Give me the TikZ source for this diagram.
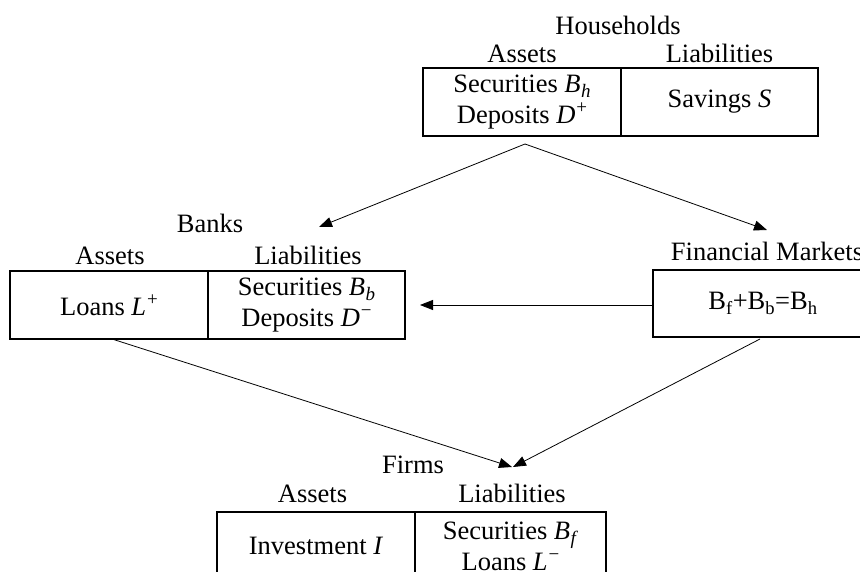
\documentclass[tikz,border=0pt]{standalone}
\usepackage{fontspec}
\setmainfont{Liberation Serif}
\usetikzlibrary{arrows.meta}
\newcommand{\itsub}[2]{\textit{#1}\kern0.5pt\raisebox{-0.2em}{\fontsize{19}{19}\selectfont\textit{#2}}}
\newcommand{\itsup}[2]{\textit{#1}\kern1pt\raisebox{0.36em}{\fontsize{19}{19}\selectfont #2}}
\begin{document}
\begin{tikzpicture}[x=1pt,y=-1pt,
  every node/.style={font=\fontsize{26.5}{31}\selectfont, inner sep=0pt},
  cell/.style={draw, line width=1.6pt, minimum height=68pt, align=center},
  lbl/.style={anchor=base},
  arr/.style={line width=0.8pt, -{Triangle[length=13pt,width=10pt]}}]
\useasboundingbox (0,0) rectangle (860,572);
% Households
\node[cell, minimum width=198pt] (hhA) at (522,102) {Securities \itsub{B}{h}\\Deposits \itsup{D}{+}};
\node[cell, minimum width=197pt] (hhL) at (719.5,102) {Savings \textit{S}};
\node[lbl] (hhT) at (618,35) {Households};
\node[lbl] (hhAt) at (522,63) {Assets};
\node[lbl] (hhLt) at (719.5,63) {Liabilities};
% Banks
\node[cell, minimum width=198pt] (bkA) at (109,305) {Loans \itsup{L}{+}};
\node[cell, minimum width=197pt] (bkL) at (306.5,305) {Securities \itsub{B}{b}\\Deposits \itsup{D}{−}};
\node[lbl] (bkT) at (210,233) {Banks};
\node[lbl] (bkAt) at (110,265) {Assets};
\node[lbl] (bkLt) at (308,265) {Liabilities};
% Financial markets
\node[cell, minimum width=220pt, minimum height=67pt] (fm) at (763,303.5) {B\textsubscript{f}+B\textsubscript{b}=B\textsubscript{h}};
\node[lbl] (fmT) at (767,261) {Financial Markets};
% Firms
\node[cell, minimum width=198pt] (fiA) at (316,546) {Investment \textit{I}};
\node[cell, minimum width=191pt] (fiL) at (510.5,546) {Securities \itsub{B}{f}\\Loans \itsup{L}{−}};
\node[lbl] (fiT) at (413,473) {Firms};
\node[lbl] (fiAt) at (312.5,502) {Assets};
\node[lbl] (fiLt) at (512,502) {Liabilities};
% connector points
\coordinate (hhOut) at (525,144);
\coordinate (bkIn) at (319,227);
\coordinate (fmIn) at (767,230);
\coordinate (bkIn2) at (420,305);
\coordinate (bkOut) at (112,339);
\coordinate (fmOut) at (760,339);
\coordinate (fiIn1) at (512,467);
\coordinate (fiIn2) at (513,467);
\draw[arr] (hhOut) -- (bkIn);
\draw[arr] (hhOut) -- (fmIn);
\draw[arr] (fm.west |- bkIn2) -- (bkIn2);
\draw[arr] (bkOut) -- (fiIn1);
\draw[arr] (fmOut) -- (fiIn2);
\end{tikzpicture}
\end{document}
